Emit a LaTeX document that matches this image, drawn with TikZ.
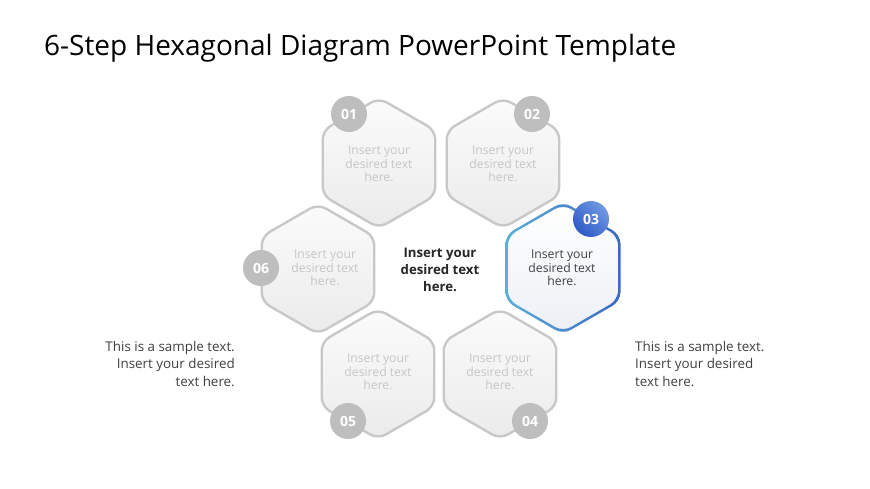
\documentclass[tikz,border=0pt]{standalone}
\usepackage{fontspec}
\setmainfont{Open Sans}
\definecolor{hexline}{HTML}{C8C8C8}
\definecolor{hexfilltop}{HTML}{FBFBFB}
\definecolor{hexfillbot}{HTML}{EBEBEB}
\definecolor{badgegray}{HTML}{BEBEBE}
\definecolor{softtext}{HTML}{C6C6C6}
\definecolor{darktext}{HTML}{404040}
\definecolor{boldtext}{HTML}{262626}
\definecolor{blueA}{HTML}{5CB0D6}
\definecolor{blueB}{HTML}{3C68C2}
\definecolor{badgeA}{HTML}{2E5AC6}
\definecolor{badgeB}{HTML}{7099E2}
\definecolor{activetop}{HTML}{FFFFFF}
\definecolor{activebot}{HTML}{ECF0F5}
\newcommand\hexp[2]{([shift={#1}]120:{0.866*#2}) -- ([shift={#1}]150:#2) -- ([shift={#1}]210:#2) -- ([shift={#1}]270:#2) -- ([shift={#1}]330:#2) -- ([shift={#1}]30:#2) -- ([shift={#1}]90:#2) -- cycle}
\tikzset{
  hexgray/.style={draw=hexline, line width=2.4pt, rounded corners=9pt, top color=hexfilltop, bottom color=hexfillbot},
  hextext/.style={align=center, font=\fontsize{12.2}{13.6}\selectfont, text=softtext},
  badge/.style={circle, fill=badgegray, minimum size=36pt, inner sep=0pt, text=white, font=\fontsize{14}{14}\selectfont\bfseries},
  sidetext/.style={font=\fontsize{13.4}{17.4}\selectfont, text=darktext},
}
\begin{document}
\begin{tikzpicture}[x=1pt,y=-1pt]
\path[use as bounding box, fill=white] (0,0) rectangle (870,489);
\node[anchor=base west, inner sep=0pt, font=\fontsize{28}{28}\selectfont] (title) at (44,56) {6-Step Hexagonal Diagram PowerPoint Template};
% gray hexagons
\draw[hexgray] \hexp{(379,163)}{65};
\draw[hexgray] \hexp{(503,163)}{65};
\draw[hexgray] \hexp{(318,269)}{65};
\draw[hexgray] \hexp{(378,374)}{65};
\draw[hexgray] \hexp{(500,374)}{65};
% active hexagon 03
\fill[top color=activetop, bottom color=activebot, rounded corners=9pt] \hexp{(563,268)}{65};
\shade[left color=blueA, right color=blueB, even odd rule, rounded corners=9pt] \hexp{(563,268)}{66.4} \hexp{(563,268)}{63.6};
% texts
\node[hextext] (h1) at (379,164) {Insert your\\desired text\\here.};
\node[hextext] (h2) at (503,164) {Insert your\\desired text\\here.};
\node[hextext, text=darktext] (h3) at (562,268) {Insert your\\desired text\\here.};
\node[hextext] (h4) at (500,372) {Insert your\\desired text\\here.};
\node[hextext] (h5) at (378,372) {Insert your\\desired text\\here.};
\node[hextext] (h6) at (325,268) {Insert your\\desired text\\here.};
\node[align=center, font=\fontsize{13.2}{17}\selectfont\bfseries, text=boldtext] (ctr) at (440,270) {Insert your\\desired text\\here.};
% badges
\node[badge] (b1) at (349,114) {01};
\node[badge] (b2) at (532,114) {02};
\node[badge, fill=none, shading=axis, left color=badgeA, right color=badgeB, shading angle=135] (b3) at (591,219) {03};
\node[badge] (b4) at (530,421) {04};
\node[badge] (b5) at (348,421) {05};
\node[badge] (b6) at (261,268) {06};
% side texts
\node[sidetext, align=right, anchor=north east, inner sep=0pt] (lt) at (235,341) {This is a sample text.\\Insert your desired\\text here.};
\node[sidetext, align=left, anchor=north west, inner sep=0pt] (rt) at (635,341) {This is a sample text.\\Insert your desired\\text here.};
\end{tikzpicture}
\end{document}
